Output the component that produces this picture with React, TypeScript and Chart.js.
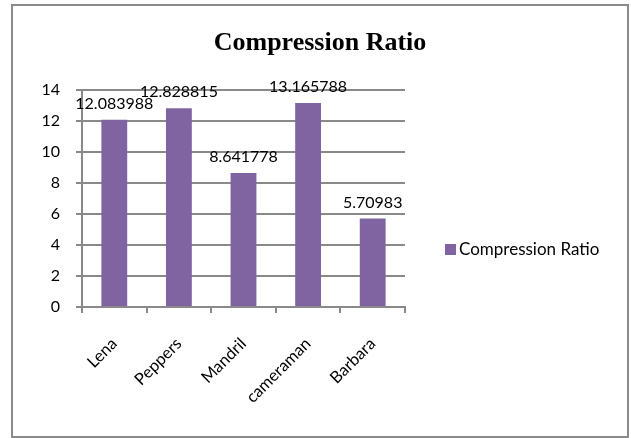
import React, { useEffect, useRef } from "react";
import { Chart, registerables } from "chart.js";

Chart.register(...registerables);

// Test images and their measured compression ratios
const images = ["Lena", "Peppers", "Mandril", "cameraman", "Barbara"];
const ratios = [12.083988, 12.828815, 8.641778, 13.165788, 5.70983];

const seriesName = "Compression Ratio";
const chartTitle = "Compression Ratio";

const yMin = 0;
const yMax = 14;
const yStep = 2;

const BAR_COLOR = "#8064A2";
const GRID_COLOR = "#898989";
const FRAME_COLOR = "#8a8a8a";
const SANS = "Lato, 'Noto Sans', sans-serif";
const SERIF = "'Liberation Serif', 'DejaVu Serif', serif";

// Frame, title, value labels and legend drawn on the canvas around the plot
const decorations = {
  id: "decorations",
  beforeDraw(chart: any) {
    const { ctx, width, height } = chart;
    ctx.save();
    ctx.fillStyle = "#ffffff";
    ctx.fillRect(0, 0, width, height);
    ctx.strokeStyle = FRAME_COLOR;
    ctx.lineWidth = 2;
    ctx.strokeRect(12, 5, 616, 432);
    ctx.restore();
  },
  afterDatasetsDraw(chart: any) {
    const { ctx } = chart;
    const meta = chart.getDatasetMeta(0);
    ctx.save();
    ctx.fillStyle = "#000000";
    ctx.font = `16px ${SANS}`;
    ctx.textAlign = "center";
    ctx.textBaseline = "middle";
    meta.data.forEach((bar: any, i: number) => {
      const value = chart.data.datasets[0].data[i];
      ctx.fillText(String(value), bar.x, bar.y - 16);
    });
    ctx.restore();
  },
  afterDraw(chart: any) {
    const { ctx, chartArea } = chart;
    ctx.save();
    // title
    ctx.fillStyle = "#000000";
    ctx.font = `bold 26px ${SERIF}`;
    ctx.textAlign = "center";
    ctx.textBaseline = "alphabetic";
    ctx.fillText(chartTitle, 320, 50);
    // legend
    const boxX = chartArea.right + 40;
    const midY = 250;
    ctx.fillStyle = BAR_COLOR;
    ctx.fillRect(boxX, midY - 6, 11, 11);
    ctx.fillStyle = "#000000";
    ctx.font = `17px ${SANS}`;
    ctx.textAlign = "left";
    ctx.textBaseline = "middle";
    ctx.fillText(chart.data.datasets[0].label, boxX + 14, midY);
    ctx.restore();
  },
};

export default function App() {
  const canvasRef = useRef<HTMLCanvasElement | null>(null);

  useEffect(() => {
    const canvas = canvasRef.current;
    if (!canvas) return;
    const chart = new Chart(canvas, {
      type: "bar",
      data: {
        labels: images,
        datasets: [
          {
            label: seriesName,
            data: ratios,
            backgroundColor: BAR_COLOR,
            borderWidth: 0,
            barPercentage: 0.4,
            categoryPercentage: 1.0,
          },
        ],
      },
      options: {
        animation: false,
        responsive: false,
        maintainAspectRatio: false,
        devicePixelRatio: 1,
        layout: { padding: { left: 12, top: 90, right: 226, bottom: 0 } },
        plugins: {
          legend: { display: false },
          title: { display: false },
          tooltip: { enabled: false },
        },
        scales: {
          x: {
            grid: {
              drawOnChartArea: false,
              drawTicks: true,
              tickLength: 6,
              color: GRID_COLOR,
              lineWidth: 2,
              offset: true,
            },
            border: { color: GRID_COLOR, width: 2 },
            ticks: {
              minRotation: 45,
              maxRotation: 45,
              color: "#000000",
              padding: 21,
              font: { family: SANS, size: 16.5 },
            },
            afterFit: (scale: any) => {
              scale.height = 131;
            },
          },
          y: {
            min: yMin,
            max: yMax,
            ticks: {
              stepSize: yStep,
              color: "#000000",
              padding: 16,
              font: { family: SANS, size: 16 },
            },
            grid: { color: GRID_COLOR, lineWidth: 2, tickLength: 6 },
            border: { color: GRID_COLOR, width: 2 },
            afterFit: (scale: any) => {
              scale.width = 70;
            },
          },
        },
      },
      plugins: [decorations],
    });
    return () => chart.destroy();
  }, []);

  return (
    <div style={{ position: "absolute", left: 0, top: 0, width: 631, height: 438 }}>
      <canvas ref={canvasRef} width={631} height={438} style={{ display: "block" }} />
    </div>
  );
}
